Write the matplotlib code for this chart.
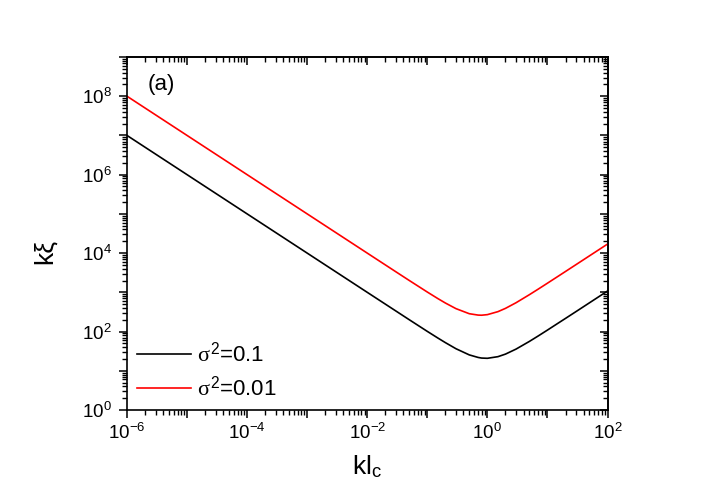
import numpy as np
import matplotlib
matplotlib.use("Agg")
import matplotlib.pyplot as plt
from matplotlib.ticker import LogLocator, FuncFormatter, NullFormatter

plt.rcParams['font.family'] = ['Liberation Sans', 'DejaVu Sans']
plt.rcParams['mathtext.fontset'] = 'custom'
plt.rcParams['mathtext.rm'] = 'Liberation Sans'
plt.rcParams['mathtext.it'] = 'Liberation Serif'
plt.rcParams['mathtext.sf'] = 'Liberation Sans'

# data
kl_c = [1e-6, 1e-5, 1e-4, 1e-3, 1e-2, 3e-2, 0.05, 0.1, 0.15, 0.2, 0.3, 0.5, 0.7,
        0.8, 1.0, 1.5, 2.0, 3.0, 5.0, 7.0, 10.0, 15.0, 20.0, 30.0, 50.0, 100.0]
kxi_s01 = [1.0e7, 1.0e6, 1.0e5, 1.0e4, 1000, 334, 200.5, 101, 68.3, 52.2, 36.5, 25.4, 21.9,
           21.1, 20.8, 22.9, 26.6, 35.7, 56, 77, 109, 163, 216.5, 324, 540, 1080]
kxi_s001 = [1.0e8, 1.0e7, 1.0e6, 1.0e5, 10000, 3338, 2008, 1017, 692, 534, 384, 285, 263,
            261, 270, 322, 390, 543, 870, 1204, 1710, 2557, 3405, 5103, 8502, 17000]
labels = [r'$\sigma^{\mathsf{2}}$=0.1', r'$\sigma^{\mathsf{2}}$=0.01']
colors = ['black', '#ff0000']

fig = plt.figure(figsize=(7.06, 4.92), dpi=100)
ax = fig.add_axes([127/706, 1-410/492, (607.5-127)/706, (410-57)/492])

ax.plot(kl_c, kxi_s01, color=colors[0], lw=1.2, label=labels[0])
ax.plot(kl_c, kxi_s001, color=colors[1], lw=1.2, label=labels[1])

ax.set_xscale('log')
ax.set_yscale('log')
ax.set_xlim(1e-6, 1e2)
ax.set_ylim(1e0, 1e9)

def fmt(v, pos):
    e = int(round(np.log10(v)))
    if e % 2 == 0:
        return r'$\mathdefault{10^{%d}}$' % e
    return ''

for axis in (ax.xaxis, ax.yaxis):
    axis.set_major_locator(LogLocator(base=10, numticks=30))
    axis.set_minor_locator(LogLocator(base=10, subs=np.arange(2, 10), numticks=30))
    axis.set_major_formatter(FuncFormatter(fmt))
    axis.set_minor_formatter(NullFormatter())

ax.tick_params(which='major', direction='out', length=6, width=1.1, labelsize=13.5, pad=3)
ax.tick_params(which='minor', direction='out', length=3.5, width=1.0)
ax.tick_params(axis='y', which='major', pad=5)
for s in ax.spines.values():
    s.set_linewidth(1.2)

# top/right mirror axes with inward ticks
sx = ax.secondary_xaxis('top')
sy = ax.secondary_yaxis('right')
for sa, axis in ((sx, sx.xaxis), (sy, sy.yaxis)):
    axis.set_major_locator(LogLocator(base=10, numticks=30))
    axis.set_minor_locator(LogLocator(base=10, subs=np.arange(2, 10), numticks=30))
    axis.set_major_formatter(NullFormatter())
    axis.set_minor_formatter(NullFormatter())
    sa.tick_params(which='major', direction='in', length=6, width=1.1)
    sa.tick_params(which='minor', direction='in', length=3.5, width=1.0)
    for s in sa.spines.values():
        s.set_linewidth(1.2)

ax.set_xlabel(r'kl$_{\mathsf{c}}$', fontsize=19, labelpad=8)
ax.set_ylabel('kξ', fontsize=19)
ax.yaxis.set_label_coords(-0.146, 0.45)

ax.text(0.042, 0.921, '(a)', transform=ax.transAxes, fontsize=16, va='center', ha='left')

leg = ax.legend(loc='lower left', bbox_to_anchor=(-0.011, -0.018), frameon=False, fontsize=16,
                handlelength=2.4, handletextpad=0.3, labelspacing=0.45, borderaxespad=0.3)

fig.savefig('out.png', dpi=100)
